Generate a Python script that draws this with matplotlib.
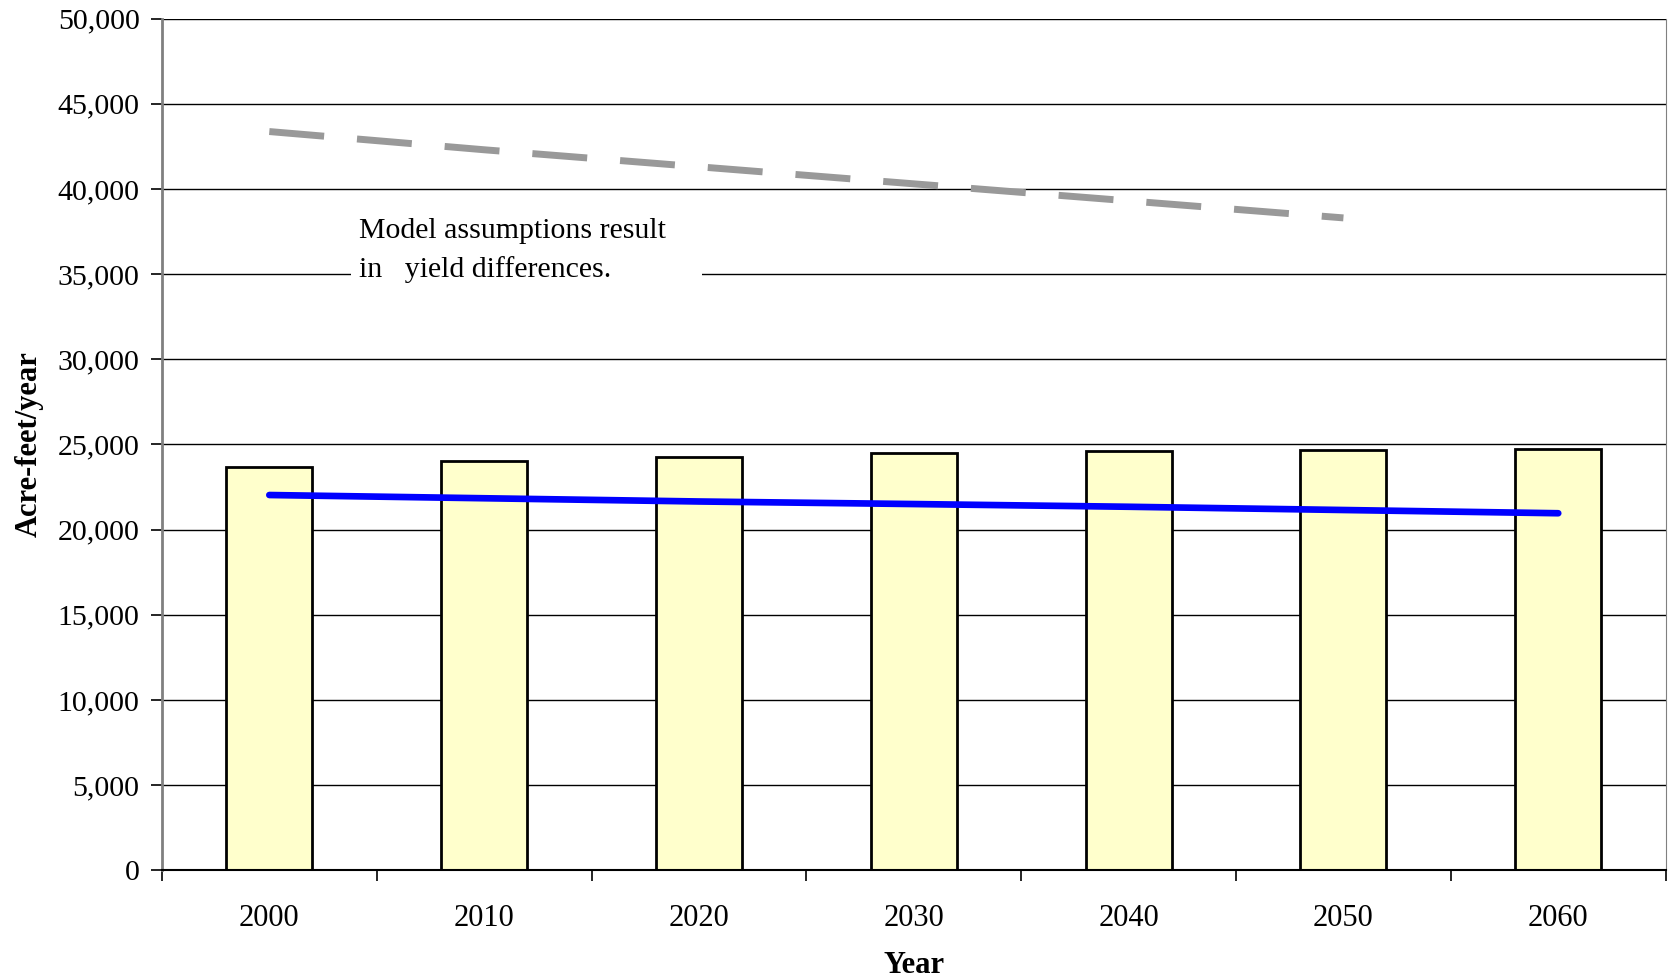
import matplotlib.pyplot as plt
from matplotlib.patches import Rectangle
import numpy as np

plt.rcParams['font.family'] = ['Liberation Serif', 'DejaVu Serif']

# Data
years = ['2000', '2010', '2020', '2030', '2040', '2050', '2060']
demand = [23700, 24030, 24280, 24470, 24600, 24660, 24720]
supply_blue = [22030, 21840, 21650, 21500, 21340, 21150, 20960]
supply_gray = [43370, 42300, 41300, 40300, 39300, 38300]

x = np.arange(len(years))

fig = plt.figure(figsize=(16.69, 9.8), dpi=100)
ax = fig.add_axes([0.097, 0.112, 0.901, 0.869])

ax.bar(x, demand, width=0.4, color='#FFFFCC', edgecolor='black', linewidth=2, zorder=2)
ax.plot(x, supply_blue, color='#0000FF', linewidth=4.8, solid_capstyle='round', zorder=3)
ax.plot(x[:len(supply_gray)], supply_gray, color='#999999', linewidth=5,
        dashes=(7.92, 4.75), zorder=3)

ax.set_xlim(-0.5, len(years) - 0.5)
ax.set_ylim(0, 50000)
ax.set_yticks(np.arange(0, 50001, 5000))
ax.set_yticklabels([f'{v:,}' for v in range(0, 50001, 5000)], fontsize=21.5)
ax.yaxis.grid(True, color='black', linewidth=1)
ax.set_axisbelow(True)

# x ticks between categories, labels centred under bars
ax.set_xticks(np.arange(-0.5, len(years), 1.0))
ax.set_xticklabels([])
ax.set_xticks(x, minor=True)
ax.set_xticklabels(years, minor=True, fontsize=22)
ax.tick_params(axis='x', which='minor', length=0, pad=24)
ax.tick_params(axis='x', which='major', length=8, width=1.2, direction='out')
ax.tick_params(axis='y', length=8, width=1.2, direction='out', pad=8)

ax.set_xlabel('Year', fontsize=22, fontweight='bold', labelpad=13)
ax.set_ylabel('Acre-feet/year', fontsize=22, fontweight='bold', labelpad=10)

ax.spines['top'].set_visible(False)
ax.spines['right'].set_color('#808080')
ax.spines['left'].set_color('#808080')
ax.spines['left'].set_linewidth(2)
ax.spines['bottom'].set_linewidth(1.5)

# annotation box
ax.add_patch(Rectangle((0.382, 33600), 1.634, 5400, facecolor='white',
                       edgecolor='none', zorder=1.5))
ax.text(0.416, 36380, 'Model assumptions result\nin   yield differences.',
        fontsize=21.5, va='center', ha='left', linespacing=1.58, zorder=4)

fig.savefig('out.png', dpi=100)
